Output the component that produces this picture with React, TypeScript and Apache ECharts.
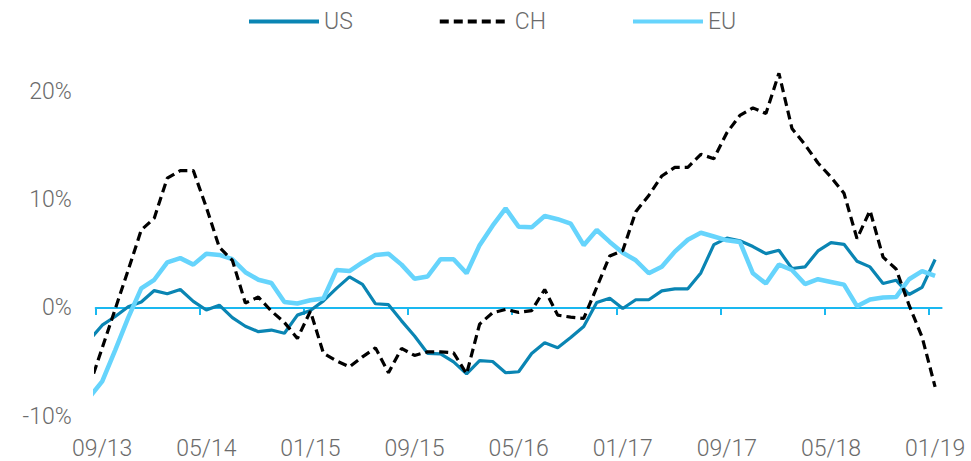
import React, { useEffect, useRef } from "react";
import * as echarts from "echarts";

// Monthly observations, Aug 2013 (clipped at left edge) to Jan 2019
const months: string[] = [
  "08/13", "09/13", "10/13", "11/13", "12/13",
  "01/14", "02/14", "03/14", "04/14", "05/14", "06/14", "07/14", "08/14", "09/14", "10/14", "11/14", "12/14",
  "01/15", "02/15", "03/15", "04/15", "05/15", "06/15", "07/15", "08/15", "09/15", "10/15", "11/15", "12/15",
  "01/16", "02/16", "03/16", "04/16", "05/16", "06/16", "07/16", "08/16", "09/16", "10/16", "11/16", "12/16",
  "01/17", "02/17", "03/17", "04/17", "05/17", "06/17", "07/17", "08/17", "09/17", "10/17", "11/17", "12/17",
  "01/18", "02/18", "03/18", "04/18", "05/18", "06/18", "07/18", "08/18", "09/18", "10/18", "11/18", "12/18",
  "01/19",
];

const tickLabels: string[] = ["09/13", "05/14", "01/15", "09/15", "05/16", "01/17", "09/17", "05/18", "01/19"];
const yTicks: number[] = [-10, 0, 10, 20];

const usValues: number[] = [
  -3.0, -1.6, -0.8, 0.1, 0.55,
  1.6, 1.3, 1.7, 0.6, -0.2, 0.25, -0.9, -1.7, -2.2, -2.05, -2.35, -0.67,
  -0.25, 0.65, 1.8, 2.87, 2.18, 0.38, 0.3, -1.2, -2.6, -4.2, -4.25, -5.0,
  -6.1, -4.87, -4.96, -6.0, -5.91, -4.22, -3.23, -3.68, -2.74, -1.72, 0.5, 0.9,
  -0.06, 0.75, 0.75, 1.57, 1.76, 1.76, 3.23, 5.85, 6.45, 6.2, 5.67, 5.02,
  5.33, 3.64, 3.79, 5.27, 6.04, 5.88, 4.31, 3.79, 2.25, 2.56, 1.24, 1.89,
  4.47,
];

const chValues: number[] = [
  -7.3, -3.7, -0.1, 3.5, 7.2,
  8.3, 12.0, 12.7, 12.7, 9.3, 5.6, 4.4, 0.45, 1.0, -0.3, -1.35, -2.83,
  -0.3, -4.2, -4.9, -5.45, -4.53, -3.7, -6.0, -3.75, -4.4, -4.07, -4.07, -4.16,
  -6.1, -1.5, -0.45, -0.15, -0.42, -0.25, 1.7, -0.67, -0.86, -0.98, 1.9, 4.8,
  5.3, 8.9, 10.4, 12.2, 13.0, 13.0, 14.2, 13.8, 16.2, 17.8, 18.5, 17.97,
  21.7, 16.6, 15.1, 13.4, 12.1, 10.6, 6.4, 9.0, 4.7, 3.6, 0.25, -2.7,
  -7.3,
];

const euValues: number[] = [
  -8.3, -6.8, -3.9, -0.9, 1.8,
  2.6, 4.2, 4.6, 4.0, 5.0, 4.9, 4.5, 3.3, 2.6, 2.3, 0.55, 0.4,
  0.7, 0.87, 3.5, 3.4, 4.2, 4.9, 5.0, 4.0, 2.7, 2.9, 4.5, 4.5,
  3.2, 5.8, 7.6, 9.2, 7.5, 7.45, 8.5, 8.2, 7.8, 5.8, 7.2, 6.1,
  5.1, 4.4, 3.2, 3.8, 5.2, 6.3, 6.95, 6.6, 6.25, 6.1, 3.2, 2.25,
  4.0, 3.5, 2.2, 2.65, 2.4, 2.15, 0.16, 0.78, 0.96, 1.0, 2.65, 3.4,
  2.95,
];

const FONT = "Roboto, 'Noto Sans', sans-serif";
const TEXT = "#6b6b6b";
const AXIS = "#1ab8f0";

export default function App() {
  const ref = useRef<HTMLDivElement>(null);

  useEffect(() => {
    if (!ref.current) return;
    const chart = echarts.init(ref.current, undefined, { renderer: "svg" });

    const origin = months.indexOf(tickLabels[0]);
    const pos = (k: number) => k - origin;
    const toPairs = (vals: number[]) => vals.map((v, k) => [pos(k), v]);
    const labelPositions = tickLabels.map((t) => pos(months.indexOf(t)));
    const tickPositions = labelPositions.map((p) => p - 0.5);
    const xMin = -0.5;
    const xMax = pos(months.length - 1) + 0.5;

    chart.setOption({
      animation: false,
      legend: {
        data: ["US", "CH", "EU"],
        left: 247,
        top: 10,
        padding: 0,
        itemWidth: 70,
        itemHeight: 14,
        itemGap: 85,
        itemStyle: { opacity: 0 },
        lineStyle: { width: 4 },
        textStyle: { fontSize: 23, color: TEXT, fontFamily: FONT, fontWeight: 300 },
      },
      grid: { left: 95.7, right: 29.4, top: 70, bottom: 45 },
      xAxis: [
        {
          type: "value",
          min: xMin,
          max: xMax,
          position: "bottom",
          axisLine: { show: false, onZero: false },
          axisTick: { show: false },
          splitLine: { show: false },
          axisLabel: {
            customValues: labelPositions,
            margin: 21,
            fontSize: 23,
            color: TEXT,
            fontFamily: FONT,
            fontWeight: 300,
            formatter: (v: number) => months[Math.round(v) + origin] ?? "",
          },
        },
        {
          type: "value",
          min: xMin,
          max: xMax,
          position: "bottom",
          axisLine: { show: true, onZero: true, lineStyle: { color: AXIS, width: 2 } },
          axisTick: {
            show: true,
            customValues: tickPositions,
            length: 7,
            lineStyle: { color: AXIS, width: 2 },
          },
          axisLabel: { show: false },
          splitLine: { show: false },
        },
      ],
      yAxis: {
        type: "value",
        min: -10,
        max: 22,
        axisLine: { show: false },
        axisTick: { show: false },
        splitLine: { show: false },
        axisLabel: {
          customValues: yTicks,
          margin: 24,
          fontSize: 23,
          color: TEXT,
          fontFamily: FONT,
          fontWeight: 300,
          formatter: (v: number) => `${v}%`,
        },
      },
      series: [
        {
          name: "US",
          type: "line",
          xAxisIndex: 0,
          data: toPairs(usValues),
          symbol: "none",
          z: 2,
          lineStyle: { color: "#0a85b3", width: 3.2 },
          itemStyle: { color: "#0a85b3" },
        },
        {
          name: "CH",
          type: "line",
          xAxisIndex: 0,
          data: toPairs(chValues),
          symbol: "none",
          z: 4,
          lineStyle: { color: "#000000", width: 3.2, type: [9, 5] },
          itemStyle: { color: "#000000" },
        },
        {
          name: "EU",
          type: "line",
          xAxisIndex: 0,
          data: toPairs(euValues),
          symbol: "none",
          z: 3,
          lineStyle: { color: "#66d4fc", width: 4.5 },
          itemStyle: { color: "#66d4fc" },
        },
      ],
    });

    return () => chart.dispose();
  }, []);

  return (
    <div
      ref={ref}
      style={{ position: "fixed", left: 0, top: 0, width: 971, height: 461, background: "#fff" }}
    />
  );
}
